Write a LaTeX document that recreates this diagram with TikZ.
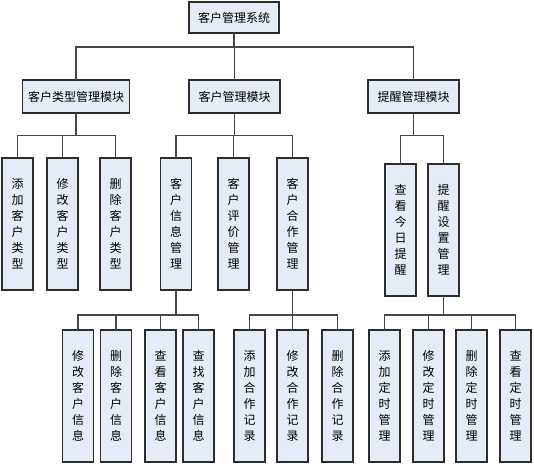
\documentclass[tikz,border=0pt]{standalone}
\usepackage{fontspec}
\newfontfamily\cjk{Noto Sans CJK SC}
\definecolor{boxfill}{RGB}{230,236,247}
\definecolor{boxline}{RGB}{45,45,45}
\definecolor{wire}{RGB}{70,70,70}
\begin{document}
\begin{tikzpicture}[
    x=1pt, y=-1pt,
    modbox/.style={draw=boxline, line width=1.1pt, fill=boxfill, outer sep=0pt, minimum height=33pt, font=\cjk\fontsize{12}{16}\selectfont},
    funcbox/.style={draw=boxline, line width=1.1pt, fill=boxfill, outer sep=0pt, minimum width=31pt, minimum height=132pt, inner sep=1pt, align=center, font=\cjk\fontsize{12}{16}\selectfont},
    wire/.style={draw=wire, line width=1.1pt}
]
  \useasboundingbox (0,0) rectangle (534,465);

  % Top level
  \node[modbox, minimum width=90pt, minimum height=31pt] (root) at (234, 17.5) {客户管理系统};

  % Modules
  \node[modbox, minimum width=107pt] (typeMod) at (76, 96.5) {客户类型管理模块};
  \node[modbox, minimum width=91pt] (custMod) at (234.5, 96.5) {客户管理模块};
  \node[modbox, minimum width=91pt] (remMod) at (413.5, 96.5) {提醒管理模块};

  % Customer type functions
  \node[funcbox] (addType) at (17.5, 224) {添\\加\\客\\户\\类\\型};
  \node[funcbox] (editType) at (62.5, 224) {修\\改\\客\\户\\类\\型};
  \node[funcbox] (delType) at (115.5, 224) {删\\除\\客\\户\\类\\型};

  % Customer functions
  \node[funcbox] (infoMgr) at (176, 224) {客\\户\\信\\息\\管\\理};
  \node[funcbox] (rateMgr) at (233.5, 224) {客\\户\\评\\价\\管\\理};
  \node[funcbox] (coopMgr) at (292.5, 224) {客\\户\\合\\作\\管\\理};

  % Reminder functions
  \node[funcbox] (viewRem) at (400.5, 230) {查\\看\\今\\日\\提\\醒};
  \node[funcbox] (setRem) at (443.5, 230) {提\\醒\\设\\置\\管\\理};

  % Customer info leaves
  \node[funcbox] (editInfo) at (78, 396) {修\\改\\客\\户\\信\\息};
  \node[funcbox] (delInfo) at (116, 396) {删\\除\\客\\户\\信\\息};
  \node[funcbox] (viewInfo) at (160.5, 396) {查\\看\\客\\户\\信\\息};
  \node[funcbox] (findInfo) at (198.5, 396) {查\\找\\客\\户\\信\\息};

  % Cooperation leaves
  \node[funcbox] (addCoop) at (249.5, 396) {添\\加\\合\\作\\记\\录};
  \node[funcbox] (editCoop) at (292.5, 396) {修\\改\\合\\作\\记\\录};
  \node[funcbox] (delCoop) at (337.5, 396) {删\\除\\合\\作\\记\\录};

  % Timer leaves
  \node[funcbox] (addTimer) at (384.5, 396) {添\\加\\定\\时\\管\\理};
  \node[funcbox] (editTimer) at (428.5, 396) {修\\改\\定\\时\\管\\理};
  \node[funcbox] (delTimer) at (471.5, 396) {删\\除\\定\\时\\管\\理};
  \node[funcbox] (viewTimer) at (515.5, 396) {查\\看\\定\\时\\管\\理};

  % Connectors
  \foreach \dst in {typeMod, custMod, remMod}
    \draw[wire] (root.south) -- ++(0,14) -| (\dst.north);
  \foreach \dst in {addType, editType, delType}
    \draw[wire] (typeMod.south) -- ++(0,22.5) -| (\dst.north);
  \foreach \dst in {infoMgr, rateMgr, coopMgr}
    \draw[wire] (custMod.south) -- ++(0,22.5) -| (\dst.north);
  \foreach \dst in {viewRem, setRem}
    \draw[wire] (remMod.south) -- ++(0,22.5) -| (\dst.north);
  \foreach \dst in {editInfo, delInfo, viewInfo, findInfo}
    \draw[wire] (infoMgr.south) -- ++(0,25) -| (\dst.north);
  \foreach \dst in {addCoop, editCoop, delCoop}
    \draw[wire] (coopMgr.south) -- ++(0,25) -| (\dst.north);
  \foreach \dst in {addTimer, editTimer, delTimer, viewTimer}
    \draw[wire] (setRem.south) -- ++(0,19) -| (\dst.north);
\end{tikzpicture}
\end{document}
